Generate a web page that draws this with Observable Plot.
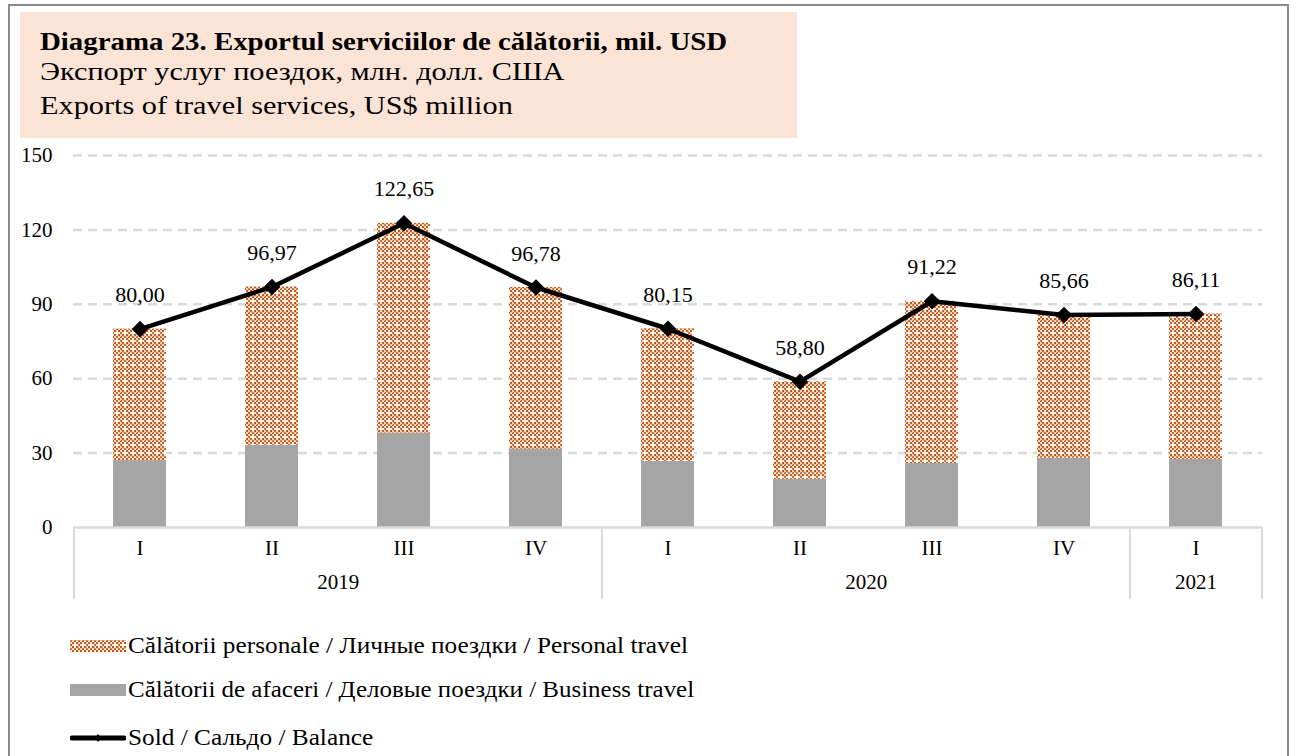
<!DOCTYPE html>
<html>
<head>
<meta charset="utf-8">
<script src="https://cdn.jsdelivr.net/npm/d3@7"></script>
<script src="https://cdn.jsdelivr.net/npm/@observablehq/plot@0.6"></script>
<style>
  body { margin: 0; background: #fff; }
  #page { position: relative; width: 1296px; height: 756px; overflow: hidden; background: #fff; font-family: "Liberation Serif", serif; color: #000; }
  #frame { position: absolute; left: 8px; top: 4px; width: 1281px; height: 800px; border: 2px solid #8a8a8a; box-sizing: border-box; }
  #titlebox { position: absolute; left: 20px; top: 12px; width: 777px; height: 126px; background: #fbe4d6; }
  #titlebox div { position: absolute; left: 20px; font-size: 26px; white-space: nowrap; line-height: 1; transform-origin: 0 50%; }
  #chart { position: absolute; left: 0; top: 0; }
  .leg { position: absolute; left: 70px; height: 24px; display: flex; align-items: center; font-size: 23px; white-space: nowrap; }
  .leg svg { margin-right: 2px; flex: none; }
  .leg span { display: inline-block; transform-origin: 0 50%; }
</style>
</head>
<body>
<svg width="0" height="0" style="position:absolute">
  <defs>
    <pattern id="pat" patternUnits="userSpaceOnUse" width="8" height="8">
      <rect width="8" height="8" fill="#fdf1e8"/>
      <rect x="0" y="0" width="2" height="2" fill="#c8591a"/>
      <rect x="4" y="0" width="2" height="2" fill="#c8591a"/>
      <rect x="2" y="2" width="2" height="2" fill="#c8591a"/>
      <rect x="6" y="2" width="2" height="2" fill="#c8591a"/>
      <rect x="0" y="4" width="2" height="2" fill="#c8591a"/>
      <rect x="2" y="6" width="2" height="2" fill="#c8591a"/>
      <rect x="6" y="6" width="2" height="2" fill="#c8591a"/>
      <rect x="4" y="4" width="2" height="2" fill="#ffffff"/>
      <rect x="0" y="0" width="8" height="1" fill="#e79a66" opacity="0.45"/>
      <rect x="0" y="0" width="1" height="8" fill="#e79a66" opacity="0.45"/>
    </pattern>
  </defs>
</svg>
<div id="page">
  <div id="frame"></div>
  <div id="titlebox">
    <div style="top:17px;font-weight:bold;transform:scaleX(1.11)">Diagrama 23. Exportul serviciilor de călătorii, mil. USD</div>
    <div style="top:47px;transform:scaleX(1.165)">Экспорт услуг поездок, млн. долл. США</div>
    <div style="top:81px;transform:scaleX(1.165)">Exports of travel services, US$ million</div>
  </div>
  <div id="chart"></div>
  <div class="leg" style="top:634px"><svg width="56" height="12"><rect width="56" height="12" fill="url(#pat)"/></svg><span style="transform:scaleX(1.1)">Călătorii personale / Личные поездки / Personal travel</span></div>
  <div class="leg" style="top:678px"><svg width="56" height="12"><rect width="56" height="12" fill="#a5a5a5"/></svg><span style="transform:scaleX(1.085)">Călătorii de afaceri / Деловые поездки / Business travel</span></div>
  <div class="leg" style="top:726px"><svg width="56" height="12"><line x1="2" x2="54" y1="6" y2="6" stroke="#000" stroke-width="5" stroke-linecap="round"/><path d="M28,2 L31,6 L28,10 L25,6 Z" fill="#000"/></svg><span style="transform:scaleX(1.1)">Sold / Сальдо / Balance</span></div>
</div>
<script>
const years    = ["2019", "2019", "2019", "2019", "2020", "2020", "2020", "2020", "2021"];
const quarters = ["I", "II", "III", "IV", "I", "II", "III", "IV", "I"];
const business = [27.0, 33.1, 38.0, 31.5, 26.6, 19.4, 25.8, 27.9, 27.4];
const balance  = [80.00, 96.97, 122.65, 96.78, 80.15, 58.80, 91.22, 85.66, 86.11];
const yTicks   = [0, 30, 60, 90, 120, 150];

const data = years.map((y, i) => ({
  key: y + "-" + quarters[i],
  year: y,
  quarter: quarters[i],
  business: business[i],
  total: balance[i]
}));
const keys = data.map(d => d.key);

const W = 1296, H = 620, ML = 73, MR = 34, MT = 155, MB = 93;
const step = (W - ML - MR) / keys.length;

const yearNames = Array.from(new Set(years));
const groups = yearNames.map(y => {
  const g = data.filter(d => d.year === y);
  return {year: y, first: g[0].key, n: g.length};
});

const font = "Liberation Serif";

const chart = Plot.plot({
  width: W,
  height: H,
  marginLeft: ML,
  marginRight: MR,
  marginTop: MT,
  marginBottom: MB,
  style: {fontFamily: font, fontSize: "21px", color: "#000", background: "transparent", overflow: "visible"},
  x: {type: "band", domain: keys, paddingInner: 0.6, paddingOuter: 0.3, axis: null},
  y: {domain: [0, 150], axis: null},
  marks: [
    Plot.ruleY(yTicks.filter(t => t > 0), {stroke: "#d9d9d9", strokeWidth: 2.5, strokeDasharray: "9,6"}),
    Plot.barY(data, {x: "key", y: "business", fill: "#a5a5a5"}),
    Plot.barY(data, {x: "key", y1: "business", y2: "total", fill: "url(#pat)"}),
    Plot.ruleY([0], {stroke: "#d9d9d9", strokeWidth: 2.5}),
    Plot.ruleX(groups, {x: "first", y1: 0, y2: -29, dx: -step / 2, stroke: "#d9d9d9", strokeWidth: 2}),
    Plot.ruleX([data[data.length - 1]], {x: "key", y1: 0, y2: -29, dx: step / 2, stroke: "#d9d9d9", strokeWidth: 2}),
    Plot.axisY({ticks: yTicks, tickSize: 0, tickPadding: 21, fontSize: 21, fontFamily: font}),
    Plot.text(data, {x: "key", y: 0, text: "quarter", dy: 21, fontSize: 21, fill: "#000"}),
    ...groups.map(g => Plot.text([g], {x: "first", y: 0, text: "year", dy: 55, dx: step * (g.n - 1) / 2, fontSize: 21, fill: "#000"})),
    Plot.line(data, {x: "key", y: "total", stroke: "#000", strokeWidth: 4.5, strokeLinejoin: "round"}),
    Plot.dot(data, {x: "key", y: "total", symbol: "diamond2", r: 6.5, fill: "#000", stroke: "#000"}),
    Plot.text(data, {x: "key", y: "total", text: d => d.total.toFixed(2).replace(".", ","), dy: -34, fontSize: 22, fill: "#000"})
  ]
});
document.getElementById("chart").appendChild(chart);
</script>
</body>
</html>
